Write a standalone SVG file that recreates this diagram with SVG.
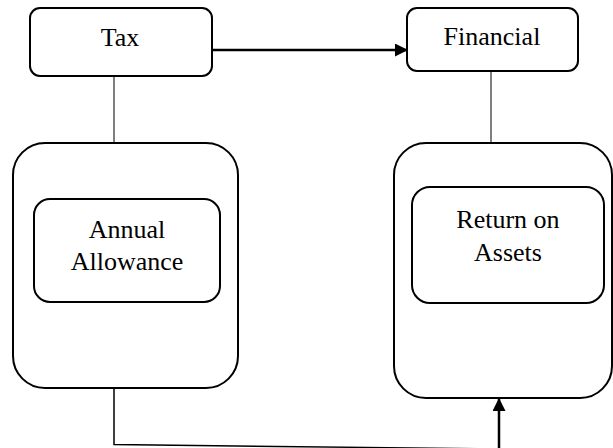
<svg xmlns="http://www.w3.org/2000/svg" width="613" height="448" viewBox="0 0 613 448">
<style>
.box{fill:#fff;stroke:#000;stroke-width:2}
.lbl{font-family:"Liberation Serif","Times New Roman",serif;font-size:26px;fill:#000;text-anchor:middle}
.thin{stroke:#000;stroke-width:1;fill:none}
.thick{stroke:#000;stroke-width:2.5;fill:none}
</style>
<defs>
<marker id="ah" viewBox="0 0 10 10" refX="10" refY="5" markerWidth="14" markerHeight="13" markerUnits="userSpaceOnUse" orient="auto">
<path d="M0,0 L10,5 L0,10 Z" fill="#000"/>
</marker>
</defs>
<g id="connectors">
<line class="thin" x1="114" y1="76" x2="114" y2="143"/>
<line class="thin" x1="491" y1="71" x2="491" y2="143"/>
<line class="thick" x1="213" y1="50" x2="408" y2="50" marker-end="url(#ah)"/>
<polyline class="thin" points="114,388 114,444.5 499,449" style="stroke-width:1.5"/>
<line class="thick" x1="499" y1="448" x2="499" y2="398" marker-end="url(#ah)"/>
</g>
<g id="tax">
<rect class="box" x="30" y="8" width="182" height="68" rx="10"/>
<text class="lbl" x="120" y="46">Tax</text>
</g>
<g id="financial">
<rect class="box" x="407" y="8" width="171" height="63" rx="10"/>
<text class="lbl" x="492" y="45">Financial</text>
</g>
<g id="left-outer">
<rect class="box" x="13" y="143" width="225" height="245" rx="32"/>
</g>
<g id="annual-allowance">
<rect class="box" x="34" y="199" width="186" height="103" rx="16"/>
<text class="lbl" x="127" y="238">Annual</text>
<text class="lbl" x="127" y="270">Allowance</text>
</g>
<g id="right-outer">
<rect class="box" x="394" y="143" width="218" height="255" rx="32"/>
</g>
<g id="return-on-assets">
<rect class="box" x="412" y="187" width="192" height="116" rx="18"/>
<text class="lbl" x="508" y="228">Return on</text>
<text class="lbl" x="508" y="261">Assets</text>
</g>
</svg>
